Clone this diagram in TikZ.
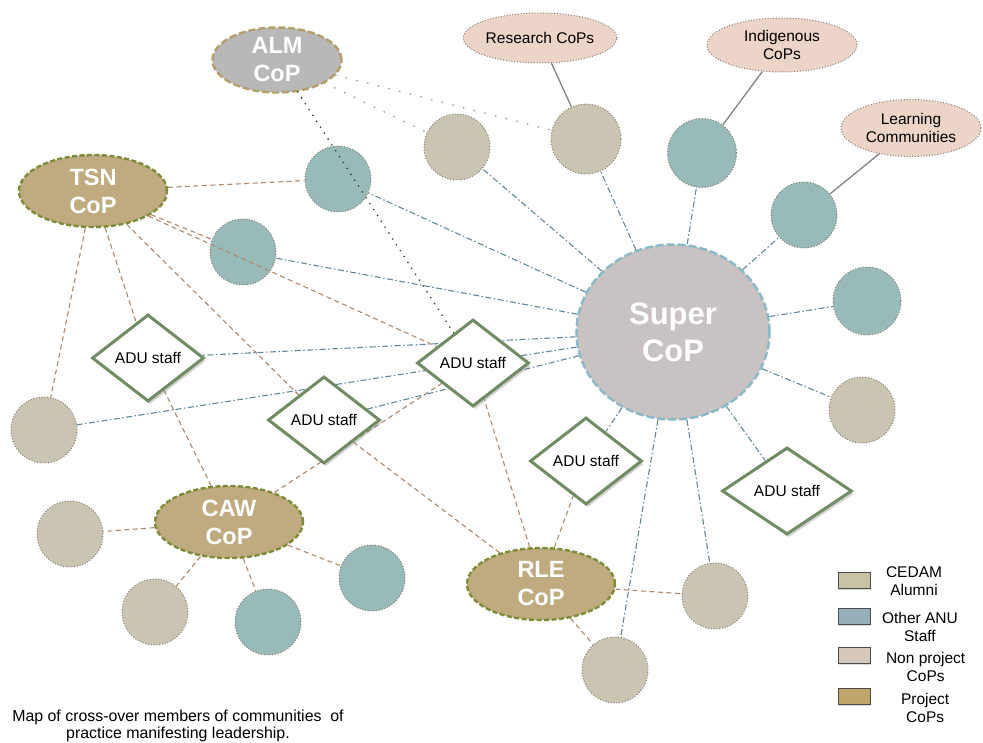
\documentclass[tikz,border=0pt]{standalone}
\usepackage{fontspec}
\setmainfont{Liberation Sans}
\usetikzlibrary{positioning, shapes.geometric, shadows}

\pgfdeclarelayer{links}
\pgfdeclarelayer{front}
\pgfsetlayers{links,main,front}

\definecolor{alumnifill}{RGB}{201,197,178}
\definecolor{stafffill}{RGB}{152,186,184}
\definecolor{nonprojfill}{RGB}{237,212,200}
\definecolor{projfill}{RGB}{192,170,128}
\definecolor{projedge}{RGB}{125,140,55}
\definecolor{almfill}{RGB}{184,184,184}
\definecolor{almedge}{RGB}{180,158,105}
\definecolor{superfill}{RGB}{200,194,194}
\definecolor{superedge}{RGB}{140,185,200}
\definecolor{aduedge}{RGB}{112,140,100}
\definecolor{memedge}{RGB}{135,125,115}
\definecolor{projline}{RGB}{175,135,105}
\definecolor{superline}{RGB}{95,135,155}
\definecolor{nonline}{RGB}{130,130,130}
\definecolor{almline}{RGB}{170,160,140}
\definecolor{keyalumni}{RGB}{200,195,165}
\definecolor{keystaff}{RGB}{150,175,185}
\definecolor{keynonproj}{RGB}{215,200,190}
\definecolor{keyproject}{RGB}{190,165,105}

\begin{document}
\begin{tikzpicture}[x=1pt, y=-1pt,
    member/.style={circle, draw=memedge, line width=1pt, dash pattern=on 1pt off 1.8pt, minimum size=66pt, inner sep=0pt},
    alumni/.style={member, fill=alumnifill},
    staff/.style={member, fill=stafffill},
    bigtext/.style={text=white, align=center, font=\fontsize{23.5}{28}\selectfont\bfseries},
    project/.style={ellipse, bigtext, fill=projfill, draw=projedge, line width=2.4pt, dash pattern=on 5pt off 2.5pt, minimum width=148pt, minimum height=72pt, inner sep=0pt},
    almcop/.style={ellipse, bigtext, fill=almfill, draw=almedge, line width=2.4pt, dash pattern=on 7pt off 3pt, minimum width=129pt, minimum height=65pt, inner sep=0pt},
    supercop/.style={ellipse, text=white, align=center, font=\fontsize{31}{37}\selectfont\bfseries, fill=superfill, draw=superedge, line width=2.5pt, dash pattern=on 8pt off 3pt, minimum width=193pt, minimum height=175pt, inner sep=0pt},
    nonproject/.style={ellipse, fill=nonprojfill, draw=memedge, line width=1pt, dash pattern=on 1pt off 1.8pt, align=center, font=\fontsize{15.5}{18}\selectfont, inner sep=0pt},
    adu/.style={diamond, fill=white, draw=aduedge, line width=3pt, minimum width=112pt, minimum height=87pt, inner sep=0pt, font=\fontsize{15.5}{18}\selectfont, drop shadow={opacity=0.35, shadow xshift=2pt, shadow yshift=-3pt}},
    projlink/.style={draw=projline, line width=1.1pt, dash pattern=on 5pt off 3.5pt},
    superlink/.style={draw=superline, line width=1.1pt, dash pattern=on 6pt off 2.5pt on 1.5pt off 2.5pt},
    nonlink/.style={draw=nonline, line width=1.3pt},
    almlink/.style={draw=almline, line width=2pt, dash pattern=on 0pt off 11pt, line cap=round},
    almdots/.style={draw=black!80, line width=1.8pt, dash pattern=on 0pt off 7pt, line cap=round},
    keybox/.style={draw=black!70, line width=1pt, minimum width=32pt, minimum height=16pt, inner sep=0pt, drop shadow={opacity=0.3, shadow xshift=1pt, shadow yshift=-2pt}},
    keytext/.style={align=center, font=\fontsize{15.5}{18}\selectfont}
]
\useasboundingbox (0,0) rectangle (983,742);

% communities
\node[almcop] (cop 0) at (277,60) {ALM\\CoP};
\node[project] (cop 1) at (93,191) {TSN\\CoP};
\node[project] (cop 2) at (229,522) {CAW\\CoP};
\node[project] (cop 3) at (541,584) {RLE\\CoP};
\node[supercop] (super) at (673,332) {Super\\CoP};

\node[nonproject, minimum width=140pt, minimum height=50pt] (ext 1) at (540,38) {Research CoPs};
\node[nonproject, minimum width=150pt, minimum height=54pt] (ext 2) at (782,45) {Indigenous\\CoPs};
\node[nonproject, minimum width=140pt, minimum height=57pt] (ext 3) at (911,128) {Learning\\Communities};

% members
\node[staff] (mem 1) at (338,179) {};
\node[staff] (mem 2) at (243,252) {};
\node[staff, minimum size=69pt] (mem 3) at (702,153) {};
\node[staff] (mem 4) at (804,215) {};
\node[staff, minimum size=68pt] (mem 5) at (867,301) {};
\node[staff] (mem 6) at (372,578) {};
\node[staff] (mem 7) at (268,622) {};
\node[alumni] (mem 8) at (457,147) {};
\node[alumni, minimum size=70pt] (mem 9) at (586,139) {};
\node[alumni] (mem 10) at (862,410) {};
\node[alumni] (mem 11) at (44,430) {};
\node[alumni] (mem 12) at (70,534) {};
\node[alumni] (mem 13) at (155,612) {};
\node[alumni] (mem 14) at (715,596) {};
\node[alumni] (mem 15) at (615,670) {};

% ADU staff
\begin{pgfonlayer}{front}
\node[adu] (adu 1) at (148,358) {ADU staff};
\node[adu] (adu 2) at (324,420) {ADU staff};
\node[adu] (adu 3) at (473,363) {ADU staff};
\node[adu] (adu 4) at (586,461) {ADU staff};
\node[adu, minimum width=130pt] (adu 5) at (787,491) {ADU staff};
\end{pgfonlayer}

\begin{pgfonlayer}{links}
\foreach \i in {1,2,11}
    \draw[projlink] (cop 1) -- (mem \i);
\foreach \i in {1,2}
    \draw[projlink] (cop 1) -- (adu \i);
\foreach \i in {6,7,12,13}
    \draw[projlink] (cop 2) -- (mem \i);
\foreach \i in {1,3}
    \draw[projlink] (cop 2) -- (adu \i);
\foreach \i in {14,15}
    \draw[projlink] (cop 3) -- (mem \i);
\foreach \i in {2,3,4}
    \draw[projlink] (cop 3) -- (adu \i);
\foreach \i in {1,2,3,4,5,8,9,10,11,14,15}
    \draw[superlink] (super) -- (mem \i);
\foreach \i in {1,2,4,5}
    \draw[superlink] (super) -- (adu \i);
\foreach \i/\j in {1/9,2/3,3/4}
    \draw[nonlink] (ext \i) -- (mem \j);
\foreach \i in {8,9}
    \draw[almlink] (cop 0) -- (mem \i);
\end{pgfonlayer}

\draw[projlink] (cop 1) -- (adu 3);
\draw[almdots] (cop 0) -- (adu 3);

% key
\node[keybox, fill=keyalumni] (key 1) at (854,580) {};
\node[keybox, fill=keystaff] (key 2) at (854,616) {};
\node[keybox, fill=keynonproj] (key 3) at (854,655) {};
\node[keybox, fill=keyproject] (key 4) at (854,696) {};
\node[keytext, right=12pt of key 1, yshift=-1pt] (key 5) {CEDAM\\Alumni};
\node[keytext, right=8pt of key 2, yshift=-11pt] (key 6) {Other ANU\\Staff};
\node[keytext, right=12pt of key 3, yshift=-12pt] (key 7) {Non project\\CoPs};
\node[keytext, right=27pt of key 4, yshift=-12pt] (key 8) {Project\\CoPs};

\node[align=center, font=\fontsize{15.9}{17.5}\selectfont] (caption) at (178,726) {Map of cross-over members of communities\ \ of\\practice manifesting leadership.};
\end{tikzpicture}
\end{document}
